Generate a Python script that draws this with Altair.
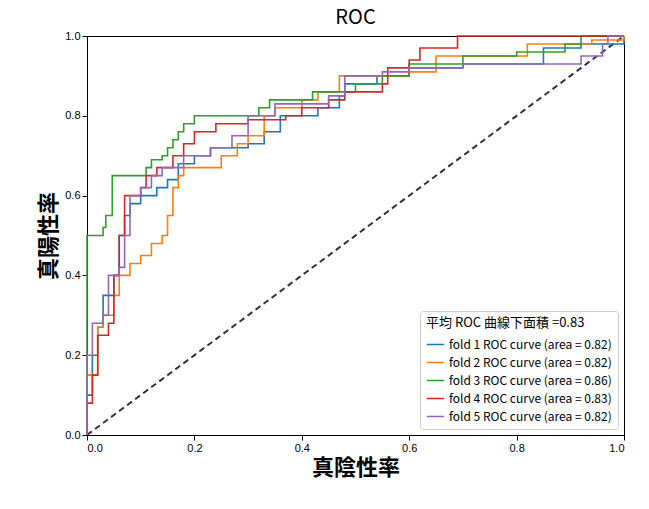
import altair as alt
import pandas as pd

# (fpr, tpr) ROC points per fold
fold1_fpr = [0, 0, 0.01, 0.02, 0.03, 0.05, 0.06, 0.07, 0.08, 0.10, 0.13, 0.15, 0.17, 0.20, 0.23, 0.30, 0.33, 0.36, 0.43, 0.47, 0.48, 0.54, 0.60, 0.70, 0.85, 0.92, 1.0]
fold1_tpr = [0, 0.10, 0.20, 0.27, 0.35, 0.40, 0.50, 0.55, 0.58, 0.60, 0.62, 0.64, 0.68, 0.70, 0.72, 0.73, 0.76, 0.80, 0.82, 0.85, 0.88, 0.90, 0.92, 0.93, 0.97, 0.98, 1.0]
fold2_fpr = [0, 0, 0.02, 0.03, 0.05, 0.06, 0.08, 0.10, 0.12, 0.14, 0.15, 0.16, 0.17, 0.18, 0.25, 0.28, 0.30, 0.33, 0.35, 0.40, 0.43, 0.47, 0.60, 0.65, 0.82, 0.94, 1.0]
fold2_tpr = [0, 0.15, 0.27, 0.30, 0.35, 0.40, 0.43, 0.45, 0.48, 0.50, 0.55, 0.62, 0.65, 0.67, 0.70, 0.73, 0.75, 0.80, 0.82, 0.84, 0.86, 0.90, 0.91, 0.95, 0.98, 0.99, 1.0]
fold3_fpr = [0, 0, 0.03, 0.035, 0.047, 0.11, 0.12, 0.14, 0.15, 0.16, 0.17, 0.18, 0.20, 0.32, 0.34, 0.42, 0.50, 0.55, 0.60, 0.70, 0.80, 0.89, 0.92, 1.0]
fold3_tpr = [0, 0.50, 0.52, 0.55, 0.65, 0.67, 0.69, 0.70, 0.72, 0.74, 0.76, 0.78, 0.80, 0.82, 0.84, 0.86, 0.88, 0.90, 0.93, 0.95, 0.96, 0.98, 1.0, 1.0]
fold4_fpr = [0, 0, 0.01, 0.02, 0.04, 0.05, 0.06, 0.07, 0.10, 0.11, 0.13, 0.16, 0.18, 0.20, 0.24, 0.30, 0.37, 0.40, 0.45, 0.48, 0.55, 0.56, 0.60, 0.62, 0.69, 1.0]
fold4_tpr = [0, 0.08, 0.15, 0.25, 0.28, 0.40, 0.50, 0.60, 0.62, 0.65, 0.67, 0.70, 0.73, 0.76, 0.78, 0.79, 0.80, 0.82, 0.84, 0.86, 0.88, 0.92, 0.94, 0.97, 1.0, 1.0]
fold5_fpr = [0, 0, 0.01, 0.03, 0.04, 0.06, 0.07, 0.08, 0.10, 0.12, 0.14, 0.18, 0.23, 0.27, 0.30, 0.35, 0.45, 0.48, 0.55, 0.60, 0.70, 0.92, 0.96, 0.97, 1.0]
fold5_tpr = [0, 0.20, 0.28, 0.30, 0.40, 0.42, 0.50, 0.60, 0.62, 0.65, 0.67, 0.70, 0.72, 0.75, 0.80, 0.83, 0.85, 0.90, 0.91, 0.92, 0.93, 0.95, 0.98, 1.0, 1.0]
areas = [0.82, 0.82, 0.86, 0.83, 0.82]

folds = [(fold1_fpr, fold1_tpr), (fold2_fpr, fold2_tpr), (fold3_fpr, fold3_tpr),
         (fold4_fpr, fold4_tpr), (fold5_fpr, fold5_tpr)]
rows = []
labels = []
for i, (fx, ty) in enumerate(folds):
    lab = f'fold {i + 1} ROC curve (area = {areas[i]:.2f})'
    labels.append(lab)
    for j, (a, b) in enumerate(zip(fx, ty)):
        rows.append({'fpr': a, 'tpr': b, 'fold': lab, 'order': j})
df = pd.DataFrame(rows)

colors = ['#1f77b4', '#ff7f0e', '#2ca02c', '#d62728', '#9467bd']
font = 'Noto Sans CJK JP'

x = alt.X('fpr:Q', title='真陰性率', scale=alt.Scale(domain=[0, 1], nice=False),
          axis=alt.Axis(values=[0, 0.2, 0.4, 0.6, 0.8, 1.0], format='.1f'))
y = alt.Y('tpr:Q', title='真陽性率', scale=alt.Scale(domain=[0, 1], nice=False),
          axis=alt.Axis(values=[0, 0.2, 0.4, 0.6, 0.8, 1.0], format='.1f'))

curves = alt.Chart(df).mark_line(interpolate='step-after', strokeWidth=1.6).encode(
    x=x, y=y, order='order:Q',
    color=alt.Color('fold:N', sort=labels, scale=alt.Scale(domain=labels, range=colors),
                    legend=alt.Legend(title='平均 ROC 曲線下面積 =0.83', orient='bottom-right',
                                      symbolType='stroke', symbolSize=300,
                                      labelFontSize=12, titleFontSize=13, titleFont=font,
                                      labelFont=font, titleFontWeight='normal',
                                      labelLimit=0, titleLimit=0,
                                      fillColor='white', strokeColor='#cccccc', padding=6,
                                      cornerRadius=3, offset=6)),
)

diag = alt.Chart(pd.DataFrame({'fpr': [0, 1], 'tpr': [0, 1]})).mark_line(
    color='#333333', strokeDash=[6, 4], strokeWidth=2).encode(x=x, y=y)

chart = (diag + curves).properties(
    width=537, height=399,
    padding={'left': 29, 'top': 0, 'right': 5, 'bottom': 5},
    title=alt.TitleParams('ROC', fontSize=20, font=font, fontWeight='normal', offset=2),
).configure_axis(
    grid=False, domainColor='black', tickColor='black', labelColor='black',
    labelFontSize=11, titleFontSize=22, titleFont=font, titleFontWeight='bold',
    titleColor='black',
).configure_view(stroke='black')

chart.save("out.html", embed_options={"renderer": "svg", "actions": False})
